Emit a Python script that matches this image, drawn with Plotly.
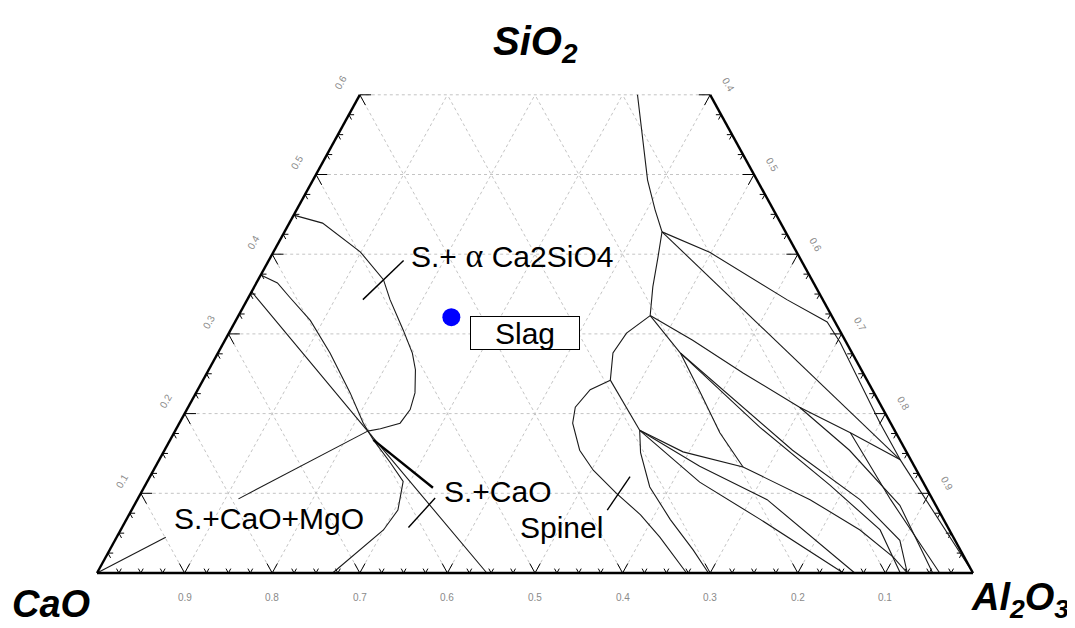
import plotly.graph_objects as go

# ---------------- data: phase boundaries as (SiO2, Al2O3) mass fractions ----------------
ALPHA_C2S = [(0.449, 0.000), (0.439, 0.038), (0.403, 0.099), (0.368, 0.143), (0.343, 0.163),
             (0.305, 0.197), (0.276, 0.222), (0.255, 0.236), (0.226, 0.250), (0.205, 0.255),
             (0.188, 0.252), (0.181, 0.233), (0.178, 0.220)]
CURVE_A = [(0.374, 0.000), (0.364, 0.024), (0.346, 0.047), (0.317, 0.085), (0.276, 0.128),
           (0.226, 0.176), (0.188, 0.210), (0.167, 0.232)]
LINE_B = [(0.353, 0.000), (0.178, 0.220), (0.000, 0.445)]
MGO_TIE_1 = [(0.000, 0.000), (0.045, 0.056)]
MGO_TIE_2 = [(0.093, 0.115), (0.178, 0.220)]
CAO_BOLD = [(0.167, 0.232), (0.107, 0.330)]
CAO_CURVE = [(0.167, 0.232), (0.139, 0.265), (0.115, 0.292), (0.079, 0.304), (0.054, 0.300),
             (0.025, 0.284), (0.000, 0.269)]

TOP_BOUNDARY = [(0.600, 0.317), (0.577, 0.331), (0.535, 0.356), (0.493, 0.382), (0.456, 0.409),
                (0.428, 0.431), (0.397, 0.442), (0.359, 0.455), (0.323, 0.470)]
R1 = [(0.428, 0.431), (0.402, 0.499), (0.343, 0.616), (0.315, 0.676), (0.289, 0.704),
      (0.188, 0.800), (0.142, 0.846)]
R2 = [(0.428, 0.431), (0.142, 0.846)]
R3 = [(0.323, 0.470), (0.292, 0.534), (0.251, 0.612), (0.208, 0.698), (0.176, 0.772), (0.142, 0.846)]
N2_N3 = [(0.323, 0.470), (0.301, 0.454), (0.276, 0.451), (0.242, 0.465)]
SPINEL = [(0.242, 0.465), (0.230, 0.448), (0.208, 0.442), (0.188, 0.449), (0.154, 0.474),
          (0.129, 0.502), (0.100, 0.543), (0.073, 0.584), (0.045, 0.620), (0.000, 0.673)]
N3_N5 = [(0.242, 0.465), (0.205, 0.503), (0.179, 0.530)]
N5_DOWN = [(0.179, 0.530), (0.151, 0.545), (0.108, 0.577), (0.067, 0.621), (0.029, 0.666), (0.000, 0.698)]
N2_N4 = [(0.323, 0.470), (0.276, 0.528)]
N4_N6 = [(0.276, 0.528), (0.226, 0.576), (0.176, 0.623), (0.133, 0.671)]
G1 = [(0.179, 0.530), (0.152, 0.593), (0.133, 0.671), (0.092, 0.768), (0.054, 0.844),
      (0.020, 0.899), (0.000, 0.925)]
G2 = [(0.179, 0.530), (0.134, 0.621), (0.092, 0.719), (0.000, 0.865)]
G3 = [(0.179, 0.530), (0.114, 0.631), (0.067, 0.724), (0.000, 0.852)]
H1 = [(0.276, 0.528), (0.226, 0.606), (0.154, 0.717), (0.092, 0.825), (0.041, 0.896), (0.000, 0.925)]
H2 = [(0.276, 0.528), (0.183, 0.665), (0.110, 0.782), (0.054, 0.867), (0.000, 0.917)]
H3 = [(0.208, 0.698), (0.154, 0.782), (0.085, 0.874), (0.000, 0.954)]
H4 = [(0.176, 0.772), (0.092, 0.860), (0.000, 0.962)]
H5 = [(0.142, 0.846), (0.000, 1.000)]

THIN_CURVES = [ALPHA_C2S, CURVE_A, LINE_B, MGO_TIE_1, MGO_TIE_2, CAO_CURVE, TOP_BOUNDARY, R1, R2, R3,
               N2_N3, SPINEL, N3_N5, N5_DOWN, N2_N4, N4_N6, G1, G2, G3, H1, H2, H3, H4, H5]
BOLD_CURVES = [CAO_BOLD]

# point of interest (slag composition)
SLAG_POINT = (0.321, 0.244)

# region labels: (text, SiO2, Al2O3)
LABELS = [("S.+<span style='font-family:Liberation Serif;font-size:34px'> α </span>Ca2SiO4", 0.399, 0.157),
          ("S.+CaO", 0.102, 0.343),
          ("Spinel", 0.057, 0.452),
          ("S.+CaO+MgO", 0.069, 0.051)]
SLAG_LABEL = ("Slag", 0.301, 0.338)
LEADERS = [[(0.343, 0.132), (0.392, 0.154)],
           [(0.057, 0.327), (0.094, 0.339)],
           [(0.079, 0.543), (0.121, 0.548)]]

# axis ticks
SIO2_TICKS = [0.1, 0.2, 0.3, 0.4, 0.5, 0.6]
AL2O3_TICKS = [0.4, 0.5, 0.6, 0.7, 0.8, 0.9]
CAO_TICKS = [0.9, 0.8, 0.7, 0.6, 0.5, 0.4, 0.3, 0.2, 0.1]
SIO2_MAX = 0.6

# ---------------- figure ----------------
FIG_W, FIG_H = 1067, 620   # page body has an 8px margin
fig = go.Figure()


def to_xy(pts):
    return [a + s / 2 for s, a in pts], [s for s, a in pts]


def add_path(paths, width=1.0, color="black", dash=None):
    xs, ys = [], []
    for p in paths:
        x, y = to_xy(p)
        xs += x + [None]
        ys += y + [None]
    fig.add_trace(go.Scatter(x=xs, y=ys, mode="lines",
                             line=dict(color=color, width=width, dash=dash),
                             hoverinfo="skip", showlegend=False))


# grid
grid = []
for v in [0.1, 0.2, 0.3, 0.4, 0.5, 0.6]:
    grid.append([(v, 0.0), (v, 1 - v)])
for v in [0.1 * k for k in range(1, 10)]:
    se = min(SIO2_MAX, 1 - v)
    grid.append([(0.0, v), (se, v)])               # constant Al2O3
    grid.append([(0.0, 1 - v), (se, 1 - v - se)])  # constant CaO
add_path(grid, width=1, color="#c4c4c4", dash="3px,3px")

# ticks
ticks = []
n = int(round(1 / 0.025))
for k in range(1, n):
    t = k * 0.025
    major = abs(t * 10 - round(t * 10)) < 1e-6
    L = 0.012 if major else 0.0055
    ticks.append([(L, t), (0.0, t), (L, t - L)])
for k in range(1, int(round(SIO2_MAX / 0.025)) + 1):
    t = k * 0.025
    major = abs(t * 10 - round(t * 10)) < 1e-6
    L = 0.013 if major else 0.006
    ticks.append([(t, L), (t, 0.0), (t - L, L)])
    ticks.append([(t, 1 - t - L), (t, 1 - t), (t - L, 1 - t)])
add_path(ticks, width=1, color="black")

# phase boundaries
add_path(THIN_CURVES, width=1.1, color="#1a1a1a")
add_path(BOLD_CURVES, width=2.4, color="black")
add_path(LEADERS, width=1.4, color="black")

# frame
add_path([[(0.0, 0.0), (SIO2_MAX, 0.0)], [(0.0, 0.0), (0.0, 1.0)], [(0.0, 1.0), (SIO2_MAX, 1 - SIO2_MAX)]],
         width=2.4, color="black")

# slag point
x, y = to_xy([SLAG_POINT])
fig.add_trace(go.Scatter(x=x, y=y, mode="markers", marker=dict(size=18, color="#0000ff"),
                         hoverinfo="skip", showlegend=False))

ann = []
font_lbl = dict(family="Liberation Sans, Arial", size=30, color="black")
for txt, s, a in LABELS:
    x, y = to_xy([(s, a)])
    ann.append(dict(x=x[0], y=y[0], xref="x", yref="y", text=txt, showarrow=False,
                    xanchor="left", yanchor="middle", font=font_lbl))
x, y = to_xy([SLAG_LABEL[1:]])
ann.append(dict(x=x[0], y=y[0], xref="x", yref="y", text=SLAG_LABEL[0], showarrow=False,
                xanchor="center", yanchor="middle", font=font_lbl, width=108, height=32,
                bordercolor="black", borderwidth=1, borderpad=0, bgcolor="white"))

font_tick = dict(family="Liberation Sans, Arial", size=10, color="#8a8a8a")
for t in CAO_TICKS:
    x, y = to_xy([(0.0, 1 - t)])
    ann.append(dict(x=x[0], y=y[0], text=f"{t:.1f}", showarrow=False, yshift=-24, font=font_tick))
for t in SIO2_TICKS:
    x, y = to_xy([(t, 0.0)])
    ann.append(dict(x=x[0], y=y[0], text=f"{t:.1f}", showarrow=False, xshift=-19, yshift=12,
                    textangle=-60, font=font_tick))
for t in AL2O3_TICKS:
    x, y = to_xy([(1 - t, t)])
    ann.append(dict(x=x[0], y=y[0], text=f"{t:.1f}", showarrow=False, xshift=18, yshift=10,
                    textangle=60, font=font_tick))

font_title = dict(family="Liberation Sans, Arial", size=40, color="black")
font_title2 = dict(family="Liberation Sans, Arial", size=38, color="black")
ann.append(dict(x=527 / FIG_W, y=1 - 36 / FIG_H, xref="paper", yref="paper",
                text="<b><i>SiO<sub>2</sub></i></b>",
                showarrow=False, xanchor="center", yanchor="middle", font=font_title))
ann.append(dict(x=2 / FIG_W, y=1 - 596 / FIG_H, xref="paper", yref="paper", text="<b><i>CaO</i></b>",
                showarrow=False, xanchor="left", yanchor="middle", font=font_title2))
ann.append(dict(x=1 - 4 / FIG_W, y=1 - 592 / FIG_H, xref="paper", yref="paper",
                text="<b><i>Al<sub>2</sub>O<sub>3</sub></i></b>",
                showarrow=False, xanchor="right", yanchor="middle", font=font_title2))

fig.update_layout(
    width=FIG_W, height=FIG_H,
    margin=dict(l=0, r=0, t=0, b=0),
    paper_bgcolor="white", plot_bgcolor="white",
    xaxis=dict(range=[-89 / 876, (FIG_W - 89) / 876], visible=False, fixedrange=True),
    yaxis=dict(range=[-55 / 797, 565 / 797], visible=False, fixedrange=True),
    annotations=ann,
)

fig.write_html("out.html")
